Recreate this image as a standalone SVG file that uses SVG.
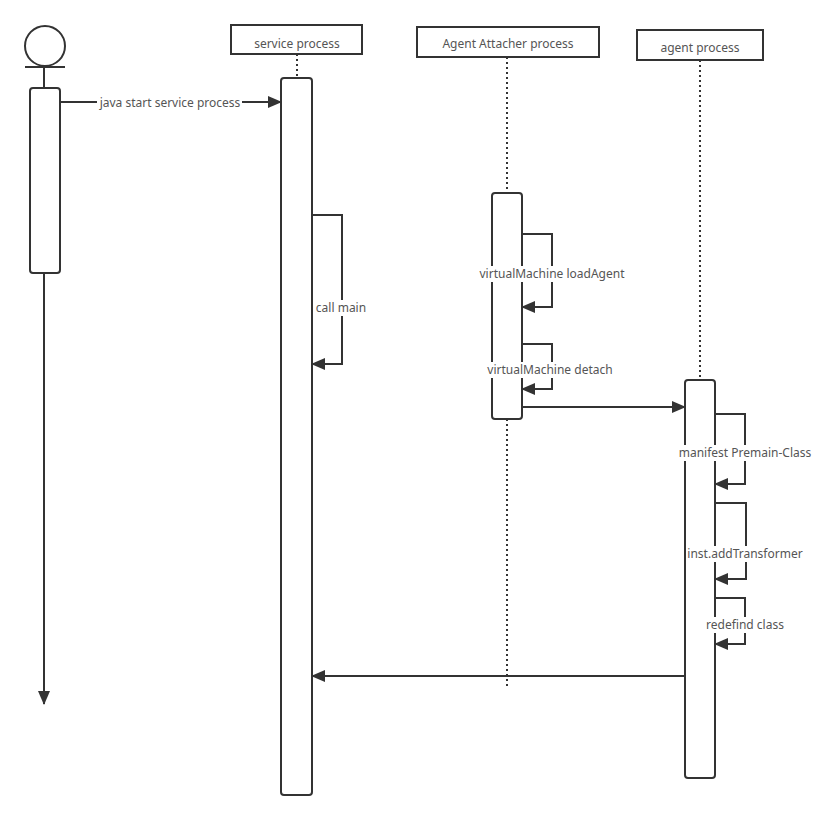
<svg xmlns="http://www.w3.org/2000/svg" width="827" height="819" viewBox="0 0 827 819">
<defs>
<style>
.ln{stroke:#333;stroke-width:2;fill:none}
.box{stroke:#333;stroke-width:2;fill:#fff}
.life{stroke:#333;stroke-width:2;stroke-dasharray:2 3;fill:none}
.t{font-family:"Noto Sans","Open Sans",sans-serif;font-size:12px;fill:#555;text-anchor:middle}
.bg{fill:#fff}
</style>
<marker id="ah" markerUnits="userSpaceOnUse" markerWidth="14" markerHeight="12" refX="13" refY="6" orient="auto">
<path d="M0,0 L14,6 L0,12 Z" fill="#333"/>
</marker>
</defs>
<g id="actor">
<circle cx="45" cy="46" r="20" class="box"/>
<line x1="25" y1="67" x2="65" y2="67" class="ln"/>
<line x1="44" y1="67" x2="44" y2="88" class="ln"/>
<rect x="30" y="88" width="30" height="185" rx="3" class="box"/>
</g>
<g id="service">
<rect x="231" y="25" width="131" height="29" class="box"/>
<text x="297" y="48" class="t">service process</text>
<line x1="297" y1="54" x2="297" y2="78" class="life"/>
<rect x="281" y="78" width="31" height="717" rx="3" class="box"/>
</g>
<g id="attacher">
<rect x="417" y="27" width="182" height="30" class="box"/>
<text x="508" y="48" class="t">Agent Attacher process</text>
<line x1="507" y1="57" x2="507" y2="193" class="life"/>
<line x1="507" y1="419" x2="507" y2="686" class="life"/>
<rect x="492" y="193" width="30" height="226" rx="3" class="box"/>
</g>
<g id="agent">
<rect x="637" y="30" width="126" height="30" class="box"/>
<text x="700" y="52" class="t">agent process</text>
<line x1="700" y1="60" x2="700" y2="380" class="life"/>
<rect x="685" y="380" width="30" height="398" rx="3" class="box"/>
</g>
<g id="connectors">
<line x1="44" y1="273" x2="44" y2="704" class="ln" marker-end="url(#ah)"/>
<line x1="60" y1="102" x2="281" y2="102" class="ln" marker-end="url(#ah)"/>
<rect x="97" y="95" width="145" height="16" class="bg"/>
<text x="170" y="107" class="t">java start service process</text>
<polyline points="312,215 342,215 342,364 312,364" class="ln" marker-end="url(#ah)"/>
<rect x="314" y="300" width="54" height="16" class="bg"/>
<text x="341" y="312" class="t">call main</text>
<polyline points="522,234 552,234 552,307 522,307" class="ln" marker-end="url(#ah)"/>
<rect x="478" y="266" width="148" height="16" class="bg"/>
<text x="552" y="278" class="t">virtualMachine loadAgent</text>
<polyline points="522,344 552,344 552,389 522,389" class="ln" marker-end="url(#ah)"/>
<rect x="486" y="362" width="128" height="16" class="bg"/>
<text x="550" y="374" class="t">virtualMachine detach</text>
<line x1="522" y1="407" x2="685" y2="407" class="ln" marker-end="url(#ah)"/>
<polyline points="715,414 745,414 745,484 715,484" class="ln" marker-end="url(#ah)"/>
<rect x="678" y="445" width="133" height="16" class="bg"/>
<text x="745" y="457" class="t">manifest Premain-Class</text>
<polyline points="715,503 746,503 746,579 715,579" class="ln" marker-end="url(#ah)"/>
<rect x="686" y="546" width="118" height="16" class="bg"/>
<text x="745" y="558" class="t">inst.addTransformer</text>
<polyline points="715,598 745,598 745,644 715,644" class="ln" marker-end="url(#ah)"/>
<rect x="705" y="617" width="80" height="16" class="bg"/>
<text x="745" y="629" class="t">redefind class</text>
<line x1="685" y1="676" x2="312" y2="676" class="ln" marker-end="url(#ah)"/>
</g>
</svg>
